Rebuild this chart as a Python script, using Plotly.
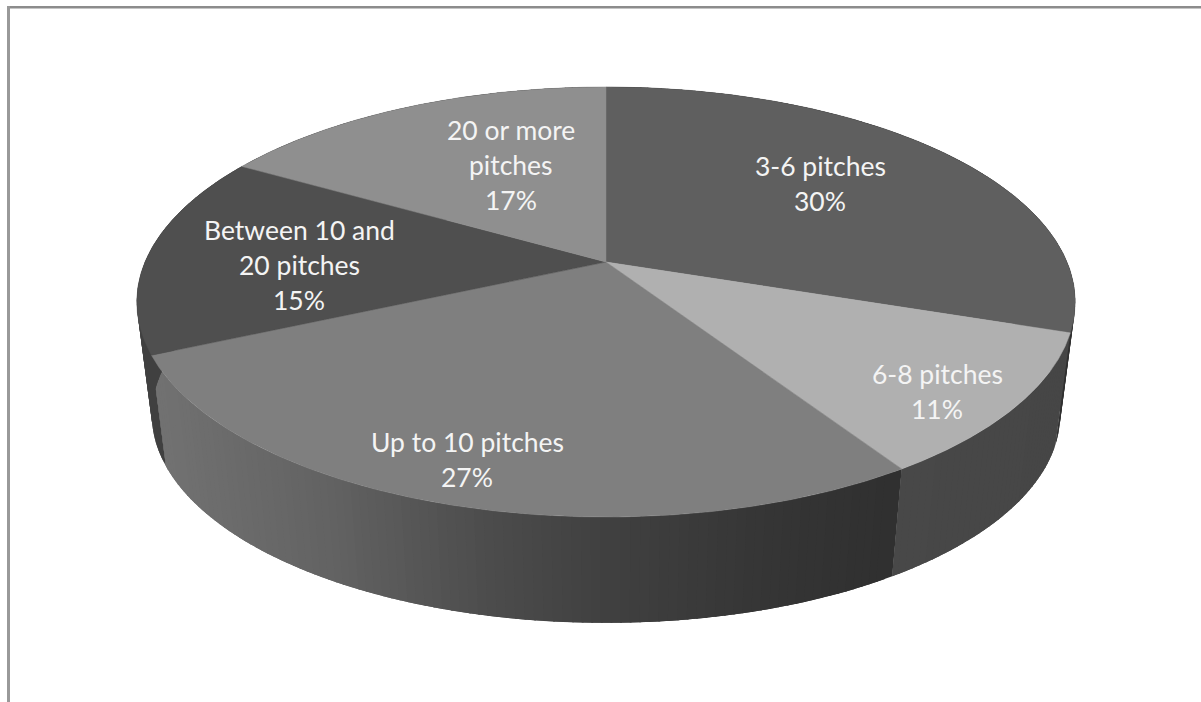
import numpy as np
import plotly.graph_objects as go

# Data
categories = ["3-6 pitches", "6-8 pitches", "Up to 10 pitches", "Between 10 and 20 pitches", "20 or more pitches"]
shares = [30.2, 10.7, 27.3, 15.2, 16.6]
label_lines = [
    ["3-6 pitches", "30%"],
    ["6-8 pitches", "11%"],
    ["Up to 10 pitches", "27%"],
    ["Between 10 and", "20 pitches", "15%"],
    ["20 or more", "pitches", "17%"],
]

# Styling and layout (separate from data)
TOP_COLORS = ["#5f5f5f", "#b0b0b0", "#7f7f7f", "#4f4f4f", "#8f8f8f"]
SIDE_STOPS = [
    ([1040, 1080], [0x30, 0x30]),
    ([900, 1080], [0x48, 0x46]),
    ([150, 330, 500, 620, 800, 895], [0x72, 0x63, 0x4c, 0x40, 0x34, 0x30]),
    ([130, 170], [0x40, 0x40]),
    ([130, 170], [0x40, 0x40]),
]
LABEL_CENTRES = [(820, 166), (937, 374), (467, 442), (299, 230), (511, 130)]
LINE_STEP = 35
FONT_SIZE = 26.5
FONT = "Lato"

CX, CY_TOP, CY_BOT = 606.0, 262.0, 376.0
K = 0.186
A, B = 461.0, 207.6
SCALE_BOT = 0.968


def project(theta_deg, bottom=False):
    t = np.radians(theta_deg)
    X, Y = np.sin(t), np.cos(t)
    w = 1 + K * Y
    s = SCALE_BOT if bottom else 1.0
    cy = CY_BOT if bottom else CY_TOP
    return CX + s * A * X / w, cy - s * B * Y / w


def grey(v):
    v = int(round(v))
    return f"rgb({v},{v},{v})"


fig = go.Figure()

edges = 360 * np.cumsum([0] + shares) / sum(shares)

# Side wall: overlapping bands per slice, painted so each overlap is covered by the next band
STEP = 1.0
OVERLAP = 1.2
for i in range(len(shares)):
    stops_x, stops_v = SIDE_STOPS[i]
    n = int((edges[i + 1] - edges[i]) / STEP)
    starts = np.linspace(edges[i], edges[i + 1], n + 1)[:-1]
    width = (edges[i + 1] - edges[i]) / n
    for a0 in starts[::-1]:
        a1 = min(a0 + width * (1 + OVERLAP), edges[i + 1])
        seg = np.linspace(a0, a1, 4)
        sx, sy = project(seg)
        ex, ey = project(seg[::-1], True)
        v = np.interp(project(a0 + width / 2)[0], stops_x, stops_v)
        fig.add_trace(go.Scatter(x=np.r_[sx, ex, sx[0]], y=np.r_[sy, ey, sy[0]], mode="lines",
                                 fill="toself", fillcolor=grey(v), line=dict(width=0),
                                 hoverinfo="skip", showlegend=False))

# Top face
for i, cat in enumerate(categories):
    ang = np.linspace(edges[i], edges[i + 1], 160)
    ax, ay = project(ang)
    fig.add_trace(go.Scatter(x=np.r_[CX, ax, CX], y=np.r_[CY_TOP, ay, CY_TOP], mode="lines",
                             fill="toself", fillcolor=TOP_COLORS[i],
                             line=dict(color=TOP_COLORS[i], width=0.5),
                             name=cat, hoverinfo="name", showlegend=False))

# Labels
annotations = []
for lines, (lx, ly) in zip(label_lines, LABEL_CENTRES):
    for j, txt in enumerate(lines):
        annotations.append(dict(x=lx, y=ly + j * LINE_STEP, text=txt, showarrow=False,
                                xanchor="center", yanchor="middle",
                                font=dict(family=FONT, size=FONT_SIZE, color="#f4f4f4")))

shapes = [
    dict(type="line", x0=7, x1=1201, y0=7.2, y1=7.2, line=dict(color="#8c8c8c", width=2.5)),
    dict(type="line", x0=8.5, x1=8.5, y0=6, y1=702, line=dict(color="#999999", width=3)),
]

fig.update_layout(
    width=1201, height=702, margin=dict(l=0, r=0, t=0, b=0),
    paper_bgcolor="white", plot_bgcolor="white", showlegend=False,
    xaxis=dict(range=[0, 1201], visible=False, fixedrange=True),
    yaxis=dict(range=[702, 0], visible=False, fixedrange=True),
    annotations=annotations, shapes=shapes,
)
fig.write_html("out.html", config={"displayModeBar": False},
               post_script="document.body.style.margin='0';")
